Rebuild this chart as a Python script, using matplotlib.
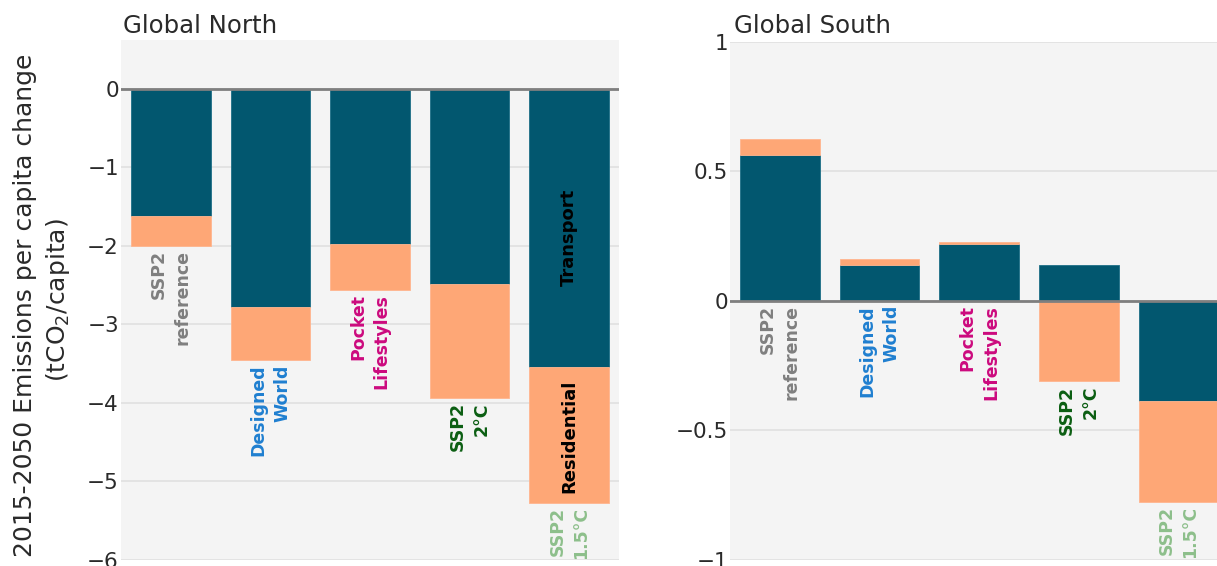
import matplotlib
matplotlib.use("Agg")
import matplotlib.pyplot as plt
import numpy as np

plt.rcParams['font.family'] = ['DejaVu Sans']
plt.rcParams['mathtext.fontset'] = 'dejavusans'

scenarios = ["SSP2\nreference", "Designed\nWorld", "Pocket\nLifestyles", "SSP2\n2°C", "SSP2\n1.5°C"]
scenario_colors = ["#7f7f7f", "#1f7fd0", "#cc0a7e", "#0b5e12", "#8dbf8b"]

# Per-capita emission changes 2015-2050 (tCO2/capita), by sector
north_transport = [-1.62, -2.78, -1.98, -2.49, -3.54]
north_residential = [-0.38, -0.68, -0.58, -1.45, -1.74]
south_transport = [0.565, 0.139, 0.218, 0.137, -0.386]
south_residential = [0.060, 0.021, 0.009, -0.311, -0.392]

TRANSPORT_COLOR = "#02576f"
RESIDENTIAL_COLOR = "#fea776"
BG = "#f4f4f4"
GRID = "#e2e2e2"
TEXT = "#2a2a2a"

W, H = 1217, 566
fig = plt.figure(figsize=(W / 100, H / 100), dpi=100)


def px_axes(x0, x1, ytop, ybot):
    return fig.add_axes([x0 / W, 1 - ybot / H, (x1 - x0) / W, (ybot - ytop) / H])


def relative_stack(a, b):
    """Stack two series the way a relative bar layout does: positives up, negatives down."""
    a = np.asarray(a, float)
    b = np.asarray(b, float)
    base_a = np.zeros_like(a)
    pos = np.where(a > 0, a, 0.0)
    neg = np.where(a < 0, a, 0.0)
    base_b = np.where(b >= 0, pos, neg)
    low = np.minimum(0, neg + np.where(b < 0, b, 0.0))
    return base_a, base_b, low


def panel(ax, transport, residential, ylim, ticks, ticklabels, title, title_x, label_words=False):
    x = np.arange(len(scenarios))
    ax.set_facecolor(BG)
    for s in ax.spines.values():
        s.set_visible(False)
    ax.set_xlim(-0.5, len(scenarios) - 0.5)
    ax.set_ylim(*ylim)
    ax.set_yticks(ticks)
    ax.set_yticklabels(ticklabels)
    ax.set_xticks([])
    ax.tick_params(axis='y', length=0, pad=1.5, labelsize=15.5, labelcolor=TEXT)
    ax.yaxis.grid(True, color=GRID, lw=1.3)
    ax.set_axisbelow(True)

    base_a, base_b, low = relative_stack(transport, residential)
    ax.bar(x, transport, bottom=base_a, width=0.8, color=TRANSPORT_COLOR,
           edgecolor="#1d6f86", lw=0.6, zorder=2)
    ax.bar(x, residential, bottom=base_b, width=0.8, color=RESIDENTIAL_COLOR,
           edgecolor="#ffb58e", lw=0.6, zorder=2)
    ax.axhline(0, color="#7f7f7f", lw=2, zorder=3)

    for xi, name, col, lo in zip(x, scenarios, scenario_colors, low):
        ax.annotate(name, (xi, lo), xytext=(0, -3), textcoords='offset points',
                    rotation=90, ha='center', va='top', multialignment='right',
                    fontsize=12.5, fontweight='bold', color=col, linespacing=1.4,
                    annotation_clip=False, zorder=4)

    if label_words:
        i = len(scenarios) - 1
        ax.annotate("Transport", (x[i], base_a[i] + transport[i] / 2), xytext=(0, -7),
                    textcoords='offset points', rotation=90, ha='center', va='center',
                    fontsize=13, fontweight='bold', color='black', zorder=4)
        ax.annotate("Residential", (x[i], base_b[i] + residential[i] / 2), xytext=(0, -1),
                    textcoords='offset points', rotation=90, ha='center', va='center',
                    fontsize=13, fontweight='bold', color='black', zorder=4)

    fig.text(title_x / W, 1 - 33 / H, title, fontsize=17.6, color=TEXT,
             ha='left', va='baseline')


ax1 = px_axes(121, 619, 40, 559.7)
panel(ax1, north_transport, north_residential, (-6, 0.62),
      [0, -1, -2, -3, -4, -5, -6], ["0", "−1", "−2", "−3", "−4", "−5", "−6"],
      "Global North", 123, label_words=True)

ax2 = px_axes(730, 1228.5, 42, 559.5)
panel(ax2, south_transport, south_residential, (-1, 1.0),
      [1, 0.5, 0, -0.5, -1], ["1", "0.5", "0", "−0.5", "−1"],
      "Global South", 734)

fig.text(25 / W, 1 - 305 / H, "2015-2050 Emissions per capita change", rotation=90,
         ha='center', va='center', fontsize=18, color=TEXT)
fig.text(58 / W, 1 - 300 / H, r"(tCO$_2$/capita)", rotation=90,
         ha='center', va='center', fontsize=18, color=TEXT)

fig.savefig("out.png", dpi=100)
